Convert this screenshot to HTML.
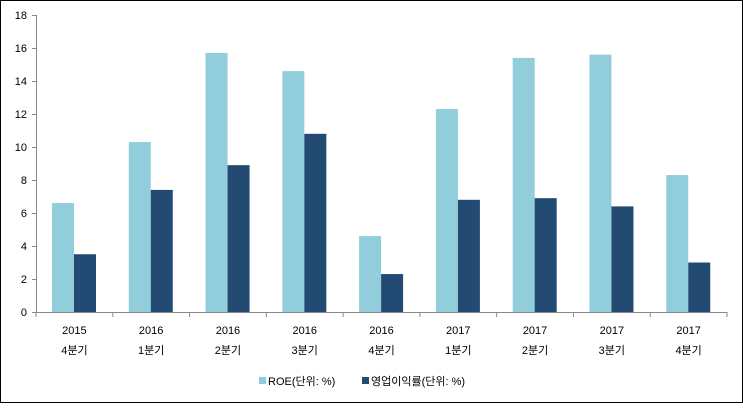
<!DOCTYPE html>
<html><head><meta charset="utf-8"><style>
body{margin:0;background:#fff}
svg text{font-family:"Liberation Sans","Noto Sans CJK KR",sans-serif;font-size:11px;fill:#000}
</style></head><body>
<svg width="743" height="403" xmlns="http://www.w3.org/2000/svg">
<rect x="0.5" y="0.5" width="742" height="402" fill="#fff" stroke="#000"/>
<g id="bars"></g>
<line x1="36.5" y1="15" x2="36.5" y2="313" stroke="#888"/>
<line x1="36" y1="312.5" x2="727" y2="312.5" stroke="#888"/>
<g id="ax"></g>
<rect x="259" y="377" width="7" height="7" fill="#92cddc"/>
<text x="268" y="385">ROE(단위: %)</text>
<rect x="362" y="377" width="7" height="7" fill="#1f4e79" style="fill:#234a72"/>
<text x="371" y="385">영업이익률(단위: %)</text>
</svg>
<script>
var roe=[6.6,10.3,15.7,14.6,4.6,12.3,15.4,15.6,8.3],op=[3.5,7.4,8.9,10.8,2.3,6.8,6.9,6.4,3.0];
var yr=["2015","2016","2016","2016","2016","2017","2017","2017","2017"],q=["4분기","1분기","2분기","3분기","4분기","1분기","2분기","3분기","4분기"];
var s="",a="",w=76.78;
for(var i=0;i<9;i++){var x=36+i*w;
s+='<rect x="'+(x+16)+'" y="'+(312-roe[i]*16.5)+'" width="22" height="'+(roe[i]*16.5)+'" fill="#92cddc"/>';
s+='<rect x="'+(x+38)+'" y="'+(312-op[i]*16.5)+'" width="22" height="'+(op[i]*16.5)+'" fill="#234a72"/>';
a+='<line x1="'+(x+w)+'" y1="312" x2="'+(x+w)+'" y2="317" stroke="#888"/>';
a+='<text x="'+(x+w/2)+'" y="334" text-anchor="middle">'+yr[i]+'</text>';
a+='<text x="'+(x+w/2)+'" y="354" text-anchor="middle">'+q[i]+'</text>';}
a+='<line x1="36" y1="312" x2="36" y2="317" stroke="#888"/>';
for(var v=0;v<=18;v+=2){var y=312-v*16.5;a+='<line x1="32" y1="'+(y+.5)+'" x2="36" y2="'+(y+.5)+'" stroke="#888"/><text x="27" y="'+(y+4)+'" text-anchor="end">'+v+'</text>';}
document.getElementById("bars").innerHTML=s;document.getElementById("ax").innerHTML=a;
</script>
</body></html>
